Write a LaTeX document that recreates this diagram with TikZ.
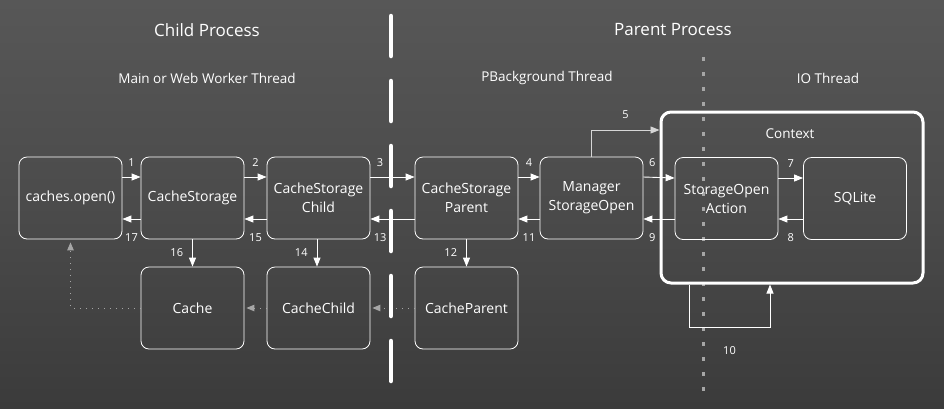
\documentclass[tikz,border=0pt]{standalone}
\usepackage{fontspec}
\setmainfont{Open Sans}
\usepackage{xcolor}
\usetikzlibrary{arrows.meta, positioning}

\definecolor{boardtop}{HTML}{575757}
\definecolor{boardmid}{HTML}{4B4B4B}
\definecolor{boardbot}{HTML}{3B3B3B}
\definecolor{chalkgray}{HTML}{A6A6A6}
\definecolor{chalkwhite}{HTML}{D6D6D6}

\begin{document}
\begin{tikzpicture}[x=1pt, y=-1pt,
    box/.style={draw=white, line width=0.8pt, rounded corners=8pt,
        minimum width=103pt, minimum height=82pt, align=center,
        text=white, font=\fontsize{14}{19}\selectfont},
    flow/.style={draw=white, line width=0.9pt, -{Triangle[length=9pt, width=7pt]}},
    weak/.style={draw=chalkgray, line width=1pt, dash pattern=on 1pt off 5pt,
        -{Triangle[length=8pt, width=6.5pt, fill=chalkgray]}, shorten >=2pt},
    num/.style={text=white, font=\fontsize{11}{13}\selectfont, inner sep=1pt},
    title/.style={text=white, font=\fontsize{17}{20}\selectfont},
    thread/.style={text=white, font=\fontsize{13.5}{16}\selectfont}]

    % Board background
    \fill[top color=boardtop, bottom color=boardbot, middle color=boardmid]
        (0,0) rectangle (944,408);
    \useasboundingbox (0,0) rectangle (944,408);

    % Process and thread titles
    \node[title] (child) at (207,30) {Child Process};
    \node[title] (parent) at (673,30) {Parent Process};
    \node[thread] (mainthr) at (207,78) {Main or Web Worker Thread};
    \node[thread] (pbgthr) at (547,78) {PBackground Thread};
    \node[thread] (iothr) at (828,78) {IO Thread};

    % Thread boundary
    \draw[chalkgray, line width=3pt, dash pattern=on 4pt off 11pt] (703,57) -- (703,395);

    % Context box
    \node[draw=white, line width=3pt, rounded corners=10pt,
        minimum width=262pt, minimum height=171pt] (context) at (792,197.5) {};
    \node[thread] (ctxlabel) at (790,134) {Context};

    % Actors
    \node[box] (open) at (70.5,198) {caches.open()};
    \node[box] (storage) at (192.5,198) {CacheStorage};
    \node[box] (schild) at (318.5,198) {CacheStorage\\Child};
    \node[box] (sparent) at (466.5,198) {CacheStorage\\Parent};
    \node[box] (manager) at (591.5,198) {Manager\\StorageOpen};
    \node[box] (action) at (726.5,198.5) {StorageOpen\\Action};
    \node[box] (sqlite) at (855,198.5) {SQLite};
    \node[box] (cache) at (192.5,308) {Cache};
    \node[box] (cchild) at (318.5,308) {CacheChild};
    \node[box] (cparent) at (466.5,308) {CacheParent};

    % Forward calls
    \draw[flow] ([yshift=21pt]open.east) -- node[num, above=9pt] {1} ([yshift=21pt]storage.west);
    \draw[flow] ([yshift=21pt]storage.east) -- node[num, above=9pt] {2} ([yshift=21pt]schild.west);
    \draw[flow] ([yshift=21pt]schild.east) -- node[num, above=9pt, pos=0.22] {3} ([yshift=21pt]sparent.west);
    \draw[flow] ([yshift=21pt]sparent.east) -- node[num, above=9pt] {4} ([yshift=21pt]manager.west);
    \draw[flow] ([yshift=21pt]manager.east) -- node[num, above=9pt, pos=0.28] {6} ([yshift=20.5pt]action.west);
    \draw[flow] ([yshift=20.5pt]action.east) -- node[num, above=9pt] {7} ([yshift=20.5pt]sqlite.west);

    % Replies
    \draw[flow] ([yshift=-20.5pt]sqlite.west) -- node[num, below=13pt] {8} ([yshift=-20.5pt]action.east);
    \draw[flow] ([yshift=-20.5pt]action.west) -- node[num, below=13pt, pos=0.72] {9} ([yshift=-21pt]manager.east);
    \draw[flow] ([yshift=-21pt]manager.west) -- node[num, below=13pt] {11} ([yshift=-21pt]sparent.east);
    \draw[flow] ([yshift=-21pt]sparent.west) -- node[num, below=13pt, pos=0.78] {13} ([yshift=-21pt]schild.east);
    \draw[flow] ([yshift=-21pt]schild.west) -- node[num, below=13pt] {15} ([yshift=-21pt]storage.east);
    \draw[flow] ([yshift=-21pt]storage.west) -- node[num, below=13pt] {17} ([yshift=-21pt]open.east);

    % Context open and run
    \draw[flow, draw=chalkwhite] (manager.north) |- node[num, above=10pt, pos=0.75] {5} ([yshift=67.5pt]context.west);
    \draw[flow] ([xshift=-103pt]context.south) -- ++(0,43)
        -| node[num, below=18pt, pos=0.25] {10} ([xshift=-22pt]context.south);

    % Actor creation
    \draw[flow] (storage.south) -- node[num, left=8pt] {16} (cache.north);
    \draw[flow] ([xshift=-1.5pt]schild.south) -- node[num, left=8pt] {14} ([xshift=-1.5pt]cchild.north);
    \draw[flow] (sparent.south) -- node[num, left=8pt] {12} (cparent.north);

    % Result handed back
    \draw[weak] (cparent.west) -- (cchild.east);
    \draw[weak] (cchild.west) -- (cache.east);
    \draw[weak, shorten >=3pt] (cache.west) -| (open.south);

    % Process boundary
    \draw[white, line width=4.5pt, line cap=round, dash pattern=on 40pt off 25pt] (391,16) -- (391,384);
\end{tikzpicture}
\end{document}
